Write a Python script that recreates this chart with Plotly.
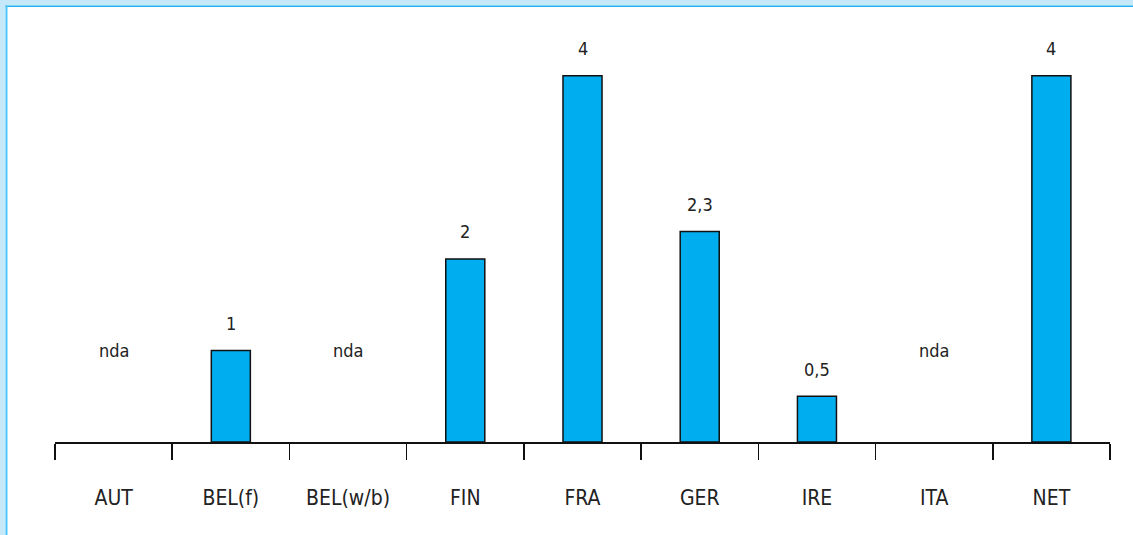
import plotly.graph_objects as go

categories = ["AUT", "BEL(f)", "BEL(w/b)", "FIN", "FRA", "GER", "IRE", "ITA", "NET"]
values = [None, 1, None, 2, 4, 2.3, 0.5, None, 4]
value_labels = ["nda", "1", "nda", "2", "4", "2,3", "0,5", "nda", "4"]

W, H = 1133, 535
ML, MR, MT, MB = 55, 23, 30, 93
pw = W - ML - MR
ph = H - MT - MB

fig = go.Figure()
fig.add_trace(go.Bar(
    x=categories,
    y=values,
    width=0.333,
    marker=dict(color="#00aeef", line=dict(color="#111111", width=1.5)),
    hoverinfo="skip",
))

font_family = "Liberation Sans Narrow, Arial Narrow, DejaVu Sans Condensed, Roboto, sans-serif"
annotations = []
for c, v, lab in zip(categories, values, value_labels):
    if v is None:
        annotations.append(dict(x=c, y=1, text=lab, showarrow=False, xref="x", yref="y",
                                yanchor="middle", font=dict(size=18, color="#222222", family=font_family)))
    else:
        annotations.append(dict(x=c, y=v, text=lab, showarrow=False, xref="x", yref="y",
                                yanchor="middle", yshift=27,
                                font=dict(size=18, color="#222222", family=font_family)))

def px_x(p):
    return (p - ML) / pw

def px_y(p):
    return 1 - (p - MT) / ph

shapes = [
    dict(type="rect", xref="paper", yref="paper", x0=px_x(0), x1=px_x(W), y0=px_y(0), y1=px_y(5.5),
         fillcolor="#c6e9f9", line=dict(width=0), layer="below"),
    dict(type="rect", xref="paper", yref="paper", x0=px_x(0), x1=px_x(5.5), y0=px_y(0), y1=px_y(H),
         fillcolor="#c6e9f9", line=dict(width=0), layer="below"),
    dict(type="rect", xref="paper", yref="paper", x0=px_x(5.5), x1=px_x(W), y0=px_y(5.5), y1=px_y(7),
         fillcolor="#22b0f0", line=dict(width=0), layer="below"),
    dict(type="rect", xref="paper", yref="paper", x0=px_x(5.5), x1=px_x(7.5), y0=px_y(5.5), y1=px_y(H),
         fillcolor="#4cc6f8", line=dict(width=0), layer="below"),
]

fig.update_layout(
    width=W, height=H,
    margin=dict(l=ML, r=MR, t=MT, b=MB),
    paper_bgcolor="white", plot_bgcolor="white",
    showlegend=False,
    annotations=annotations,
    shapes=shapes,
    xaxis=dict(
        type="category",
        showline=True, linecolor="#111111", linewidth=1.5,
        ticks="outside", tickson="boundaries", ticklen=16, tickwidth=1.5, tickcolor="#111111",
        tickfont=dict(size=21, color="#222222", family=font_family),
        ticklabelstandoff=36,
        showgrid=False, zeroline=False,
        range=[-0.5, 8.5],
    ),
    yaxis=dict(visible=False, range=[0, 4.5], showgrid=False, zeroline=False),
)

fig.write_html("out.html", config={"displayModeBar": False, "staticPlot": True})

with open("out.html", "r", encoding="utf-8") as f:
    html = f.read()
html = html.replace("<head>", "<head><style>html,body{margin:0;padding:0;overflow:hidden;}</style>", 1)
with open("out.html", "w", encoding="utf-8") as f:
    f.write(html)
